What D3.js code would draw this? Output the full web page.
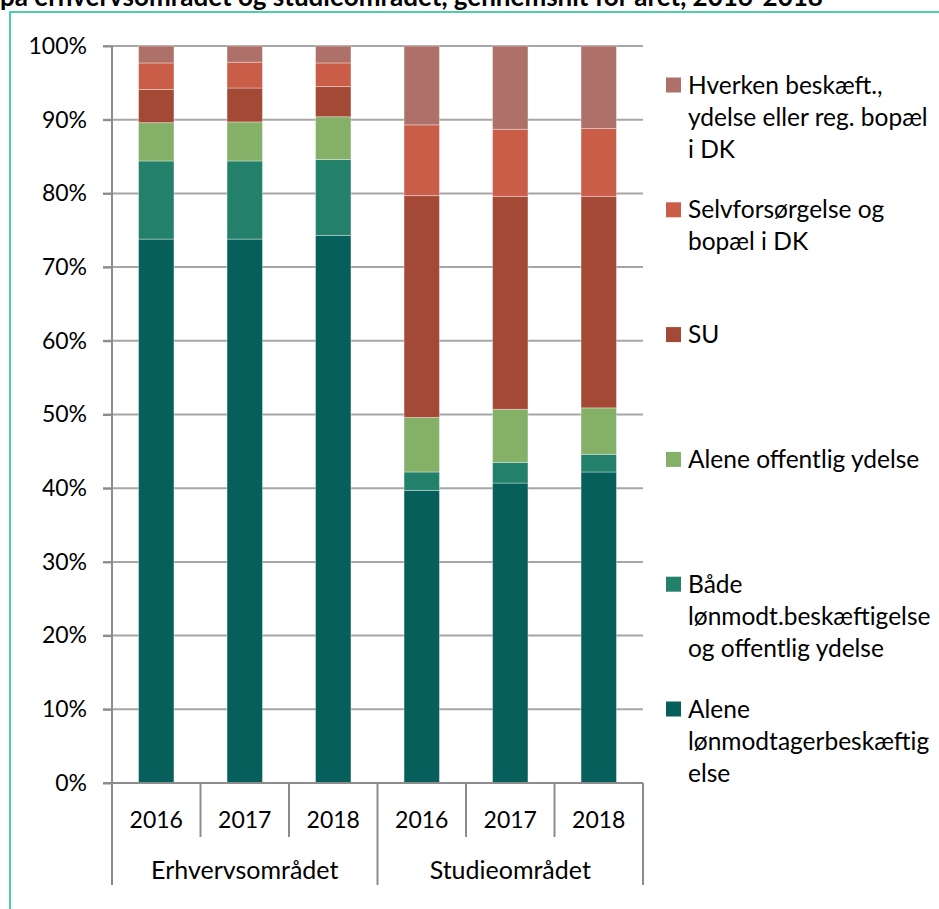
<html>
<head>
<meta charset="utf-8">
<script src="https://d3js.org/d3.v7.min.js"></script>
<style>
  body { margin: 0; background: #fff; }
  text { font-family: Lato, Calibri, "Open Sans", sans-serif; fill: #000; }
</style>
</head>
<body>
<div id="chart"></div>
<script>
// data (shares in %)
var groups = ["Erhvervsområdet", "Studieområdet"];
var years = ["2016", "2017", "2018"];
var seriesNames = [
  "Alene lønmodtagerbeskæftigelse",
  "Både lønmodt.beskæftigelse og offentlig ydelse",
  "Alene offentlig ydelse",
  "SU",
  "Selvforsørgelse og bopæl i DK",
  "Hverken beskæft., ydelse eller reg. bopæl i DK"
];
var aleneLoen    = [73.8, 73.8, 74.3, 39.7, 40.7, 42.2];
var baade        = [10.6, 10.6, 10.3,  2.5,  2.8,  2.4];
var aleneOff     = [ 5.2,  5.3,  5.8,  7.4,  7.2,  6.3];
var su           = [ 4.5,  4.6,  4.1, 30.1, 28.9, 28.7];
var selvforsoerg = [ 3.6,  3.5,  3.2,  9.6,  9.1,  9.2];
var hverken      = [ 2.3,  2.2,  2.3, 10.7, 11.3, 11.2];
var yTicks = [0, 10, 20, 30, 40, 50, 60, 70, 80, 90, 100];
// legend lines, top to bottom (wrapped like the original)
var legendLines = [
  ["Hverken beskæft.,", "ydelse eller reg. bopæl", "i DK"],
  ["Selvforsørgelse og", "bopæl i DK"],
  ["SU"],
  ["Alene offentlig ydelse"],
  ["Både", "lønmodt.beskæftigelse", "og offentlig ydelse"],
  ["Alene", "lønmodtagerbeskæftig", "else"]
];
var colors = ["#065f5b", "#23806b", "#84b068", "#a34936", "#c95d48", "#ae7169"];
var title = "på erhvervsområdet og studieområdet, gennemsnit for året, 2016-2018";

var W = 939, H = 909;
var svg = d3.select("#chart").append("svg").attr("width", W).attr("height", H);

// frame + title
svg.append("rect").attr("x", 10).attr("y", 12).attr("width", W + 20).attr("height", H + 20)
  .attr("fill", "none").attr("stroke", "#4fcfa7").attr("stroke-width", 2);
svg.append("text").attr("x", 0).attr("y", 6).attr("font-weight", 700).attr("font-size", 26).text(title);

// table for the stack
var seriesVals = [aleneLoen, baade, aleneOff, su, selvforsoerg, hverken];
var rows = [];
groups.forEach(function(g, gi) {
  years.forEach(function(y, yi) {
    var i = gi * years.length + yi;
    var r = { id: i, group: g, year: y };
    seriesNames.forEach(function(s, si) { r[s] = seriesVals[si][i]; });
    rows.push(r);
  });
});
var stacked = d3.stack().keys(seriesNames)(rows);

var pLeft = 112, pRight = 643, pTop = 46, pBottom = 783;
var x = d3.scaleBand().domain(rows.map(function(d) { return d.id; })).range([pLeft, pRight])
  .paddingInner(0.6).paddingOuter(0.3);
var y = d3.scaleLinear().domain([0, 100]).range([pBottom, pTop]);
var step = x.step();

// gridlines
svg.append("g").selectAll("line").data(yTicks.slice(1)).join("line")
  .attr("x1", pLeft - 9).attr("x2", pRight)
  .attr("y1", function(d) { return y(d); }).attr("y2", function(d) { return y(d); })
  .attr("stroke", "#a6a6a6").attr("stroke-width", 2);

// y axis
var yAxis = svg.append("g").attr("transform", "translate(" + pLeft + ",0)")
  .call(d3.axisLeft(y).tickValues(yTicks).tickSize(9).tickPadding(16)
    .tickFormat(function(d) { return d + "%"; }));
yAxis.select(".domain").remove();
yAxis.selectAll(".tick line").attr("stroke", "#8c8c8c").attr("stroke-width", 2);
yAxis.selectAll("text").attr("font-size", 23).attr("font-family", "Lato, Calibri, sans-serif").attr("fill", "#000");

// bars
svg.append("g").selectAll("g").data(stacked).join("g")
  .attr("fill", function(d, i) { return colors[i]; })
  .selectAll("rect").data(function(d) { return d; }).join("rect")
  .attr("x", function(d) { return x(d.data.id); })
  .attr("width", x.bandwidth())
  .attr("y", function(d) { return y(d[1]); })
  .attr("height", function(d) { return y(d[0]) - y(d[1]); })
  .attr("stroke", "rgba(255,255,255,0.35)").attr("stroke-width", 1);

// axis lines
var axisG = svg.append("g").attr("stroke", "#8c8c8c").attr("stroke-width", 2);
axisG.append("line").attr("x1", pLeft - 9).attr("x2", pRight).attr("y1", pBottom).attr("y2", pBottom);
axisG.append("line").attr("x1", pLeft).attr("x2", pLeft).attr("y1", pTop).attr("y2", 885);
// separators between bars and groups
rows.forEach(function(d, i) {
  var xr = x(d.id) + x.bandwidth() / 2 + step / 2;
  var isGroupEnd = (i % years.length) === years.length - 1;
  axisG.append("line").attr("x1", xr).attr("x2", xr).attr("y1", pBottom)
    .attr("y2", isGroupEnd ? 885 : 837);
});

// year labels
svg.append("g").selectAll("text").data(rows).join("text")
  .attr("x", function(d) { return x(d.id) + x.bandwidth() / 2; })
  .attr("y", 820).attr("dy", "0.35em").attr("text-anchor", "middle").attr("font-size", 23)
  .text(function(d) { return d.year; });
// group labels
svg.append("g").selectAll("text").data(groups).join("text")
  .attr("x", function(g, gi) { return x(gi * years.length + 1) + x.bandwidth() / 2; })
  .attr("y", 870).attr("dy", "0.35em").attr("text-anchor", "middle").attr("font-size", 25)
  .text(function(g) { return g; });

// legend
var legY = d3.scaleLinear().domain([0, legendLines.length - 1]).range([85, 709]);
var leg = svg.append("g").selectAll("g").data(legendLines).join("g")
  .attr("transform", function(d, i) { return "translate(666," + legY(i) + ")"; });
leg.append("rect").attr("x", 0).attr("y", -7.5).attr("width", 15).attr("height", 15)
  .attr("fill", function(d, i) { return colors[colors.length - 1 - i]; });
leg.each(function(lines) {
  var g = d3.select(this);
  lines.forEach(function(l, li) {
    g.append("text").attr("x", 22).attr("y", li * 32).attr("dy", "0.35em").attr("font-size", 24.5).text(l);
  });
});
</script>
</body>
</html>
